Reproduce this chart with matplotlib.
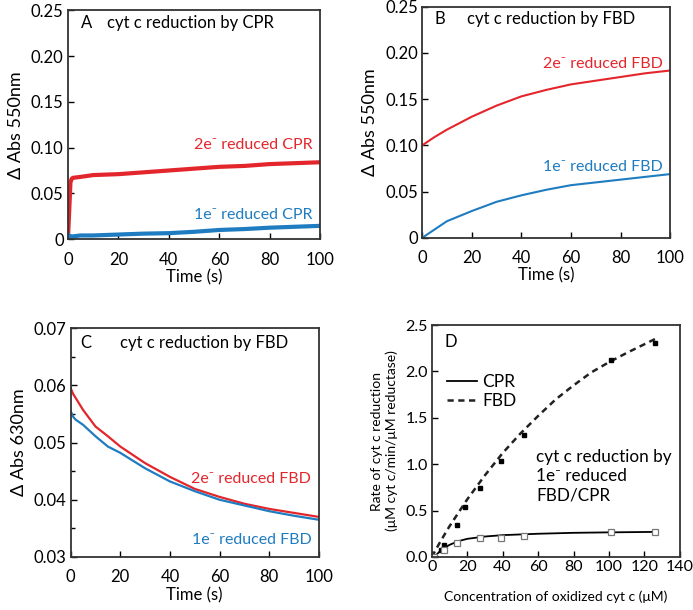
import matplotlib.pyplot as plt

plt.rcParams['font.family'] = ['Lato', 'DejaVu Sans']
plt.rcParams['axes.linewidth'] = 1.3
plt.rcParams['xtick.direction'] = 'in'
plt.rcParams['ytick.direction'] = 'in'

RED = '#e3262c'
BLUE = '#1f7cc0'

# Panel A: cyt c reduction by CPR (dAbs 550nm)
t_a = [0, 0.5, 1, 1.5, 2, 5, 10, 20, 30, 40, 50, 60, 70, 80, 90, 100]
a_2e = [0.0, 0.03, 0.062, 0.066, 0.067, 0.068, 0.070, 0.071, 0.073, 0.075, 0.077, 0.079, 0.080, 0.082, 0.083, 0.084]
a_1e = [0.005, 0.004, 0.003, 0.003, 0.003, 0.004, 0.004, 0.005, 0.006, 0.0065, 0.008, 0.010, 0.011, 0.0125, 0.0135, 0.0145]

# Panel B: cyt c reduction by FBD (dAbs 550nm)
t_b = [0, 5, 10, 20, 30, 40, 50, 60, 70, 80, 90, 100]
b_2e = [0.100, 0.109, 0.117, 0.131, 0.143, 0.153, 0.160, 0.166, 0.170, 0.174, 0.178, 0.181]
b_1e = [0.0, 0.009, 0.018, 0.029, 0.039, 0.046, 0.052, 0.057, 0.060, 0.063, 0.066, 0.069]

# Panel C: cyt c reduction by FBD (dAbs 630nm)
t_c = [0, 1, 2, 5, 10, 15, 20, 30, 40, 50, 60, 70, 80, 90, 100]
c_2e = [0.0595, 0.0585, 0.0578, 0.0557, 0.0528, 0.0511, 0.0493, 0.0464, 0.0440, 0.0419, 0.0405, 0.0393, 0.0384, 0.0377, 0.0370]
c_1e = [0.0555, 0.0545, 0.0540, 0.0531, 0.0511, 0.0493, 0.0482, 0.0455, 0.0432, 0.0415, 0.0400, 0.0390, 0.0380, 0.0372, 0.0365]

# Panel D: rate vs concentration of oxidized cyt c
conc_fbd = [1.5, 5, 7, 14, 19, 27, 39, 52, 101, 126]
rate_fbd = [0.0, 0.07, 0.13, 0.34, 0.54, 0.74, 1.03, 1.32, 2.12, 2.31]
conc_cpr = [1.5, 7, 14, 27, 39, 52, 101, 126]
rate_cpr = [0.0, 0.07, 0.15, 0.20, 0.20, 0.23, 0.27, 0.27]
fit_x_fbd = [0, 5, 10, 20, 30, 40, 50, 60, 70, 80, 90, 100, 110, 126]
fit_y_fbd = [0.0, 0.17, 0.33, 0.62, 0.88, 1.12, 1.33, 1.52, 1.70, 1.85, 1.99, 2.10, 2.20, 2.35]
fit_x_cpr = [1.5, 5, 10, 15, 20, 30, 40, 60, 80, 100, 126]
fit_y_cpr = [0.0, 0.07, 0.13, 0.17, 0.195, 0.22, 0.235, 0.25, 0.26, 0.265, 0.27]

fig = plt.figure(figsize=(6.93, 6.10), dpi=100)
axA = fig.add_axes([0.098, 0.608, 0.364, 0.375])
axB = fig.add_axes([0.609, 0.610, 0.358, 0.379])
axC = fig.add_axes([0.102, 0.087, 0.358, 0.375])
axD = fig.add_axes([0.623, 0.087, 0.358, 0.380])

TICK = 12
XLAB = 12
YLAB = 13
TITLE = 12
CURVE = 11.5

# A
axA.plot(t_a, a_2e, color=RED, lw=3)
axA.plot(t_a, a_1e, color=BLUE, lw=3)
axA.set_xlim(0, 100)
axA.set_ylim(0, 0.25)
axA.set_xticks([0, 20, 40, 60, 80, 100])
axA.set_yticks([0, 0.05, 0.10, 0.15, 0.20, 0.25])
axA.set_yticklabels(['0', '0.05', '0.10', '0.15', '0.20', '0.25'])
axA.set_xlabel('Time (s)', fontsize=XLAB, labelpad=1)
axA.set_ylabel('Δ Abs 550nm', fontsize=YLAB, labelpad=5)
axA.text(0.05, 0.925, 'A', transform=axA.transAxes, fontsize=TITLE)
axA.text(0.155, 0.925, 'cyt c reduction by CPR', transform=axA.transAxes, fontsize=TITLE)
axA.text(0.97, 0.395, '2e⁻ reduced CPR', transform=axA.transAxes, fontsize=CURVE,
         color=RED, ha='right')
axA.text(0.97, 0.09, '1e⁻ reduced CPR', transform=axA.transAxes, fontsize=CURVE,
         color=BLUE, ha='right')

# B
axB.plot(t_b, b_2e, color=RED, lw=1.5)
axB.plot(t_b, b_1e, color=BLUE, lw=1.5)
axB.set_xlim(0, 100)
axB.set_ylim(0, 0.25)
axB.set_xticks([0, 20, 40, 60, 80, 100])
axB.set_yticks([0, 0.05, 0.10, 0.15, 0.20, 0.25])
axB.set_yticklabels(['0', '0.05', '0.10', '0.15', '0.20', '0.25'])
axB.set_xlabel('Time (s)', fontsize=XLAB, labelpad=1)
axB.set_ylabel('Δ Abs 550nm', fontsize=YLAB, labelpad=5)
axB.text(0.05, 0.925, 'B', transform=axB.transAxes, fontsize=TITLE)
axB.text(0.18, 0.925, 'cyt c reduction by FBD', transform=axB.transAxes, fontsize=TITLE)
axB.text(0.97, 0.735, '2e⁻ reduced FBD', transform=axB.transAxes, fontsize=CURVE,
         color=RED, ha='right')
axB.text(0.97, 0.29, '1e⁻ reduced FBD', transform=axB.transAxes, fontsize=CURVE,
         color=BLUE, ha='right')

# C
axC.plot(t_c, c_2e, color=RED, lw=1.6)
axC.plot(t_c, c_1e, color=BLUE, lw=1.6)
axC.set_xlim(0, 100)
axC.set_ylim(0.03, 0.07)
axC.set_xticks([0, 20, 40, 60, 80, 100])
axC.set_yticks([0.03, 0.04, 0.05, 0.06, 0.07])
axC.set_yticks([0.035, 0.045, 0.055, 0.065], minor=True)
axC.set_yticklabels(['0.03', '0.04', '0.05', '0.06', '0.07'])
axC.set_xlabel('Time (s)', fontsize=XLAB, labelpad=1)
axC.set_ylabel('Δ Abs 630nm', fontsize=YLAB, labelpad=5)
axC.text(0.04, 0.915, 'C', transform=axC.transAxes, fontsize=TITLE)
axC.text(0.20, 0.915, 'cyt c reduction by FBD', transform=axC.transAxes, fontsize=TITLE)
axC.text(0.97, 0.325, '2e⁻ reduced FBD', transform=axC.transAxes, fontsize=CURVE,
         color=RED, ha='right')
axC.text(0.97, 0.055, '1e⁻ reduced FBD', transform=axC.transAxes, fontsize=CURVE,
         color=BLUE, ha='right')

# D
axD.plot(fit_x_cpr, fit_y_cpr, color='black', lw=1.3, label='CPR')
axD.plot(fit_x_fbd, fit_y_fbd, color='#222222', lw=1.8, ls=(0, (2.5, 1.8)), label='FBD')
axD.plot(conc_fbd, rate_fbd, 's', color='black', ms=3.5)
axD.plot(conc_cpr, rate_cpr, 's', mfc='white', mec='#777777', mew=0.9, ms=4)
axD.set_xlim(0, 140)
axD.set_ylim(0, 2.5)
axD.set_xticks([0, 20, 40, 60, 80, 100, 120, 140])
axD.set_yticks([0, 0.5, 1.0, 1.5, 2.0, 2.5])
axD.set_yticklabels(['0.0', '0.5', '1.0', '1.5', '2.0', '2.5'])
axD.set_xlabel('Concentration of oxidized cyt c (μM)', fontsize=10, labelpad=12)
axD.set_ylabel('Rate of cyt c reduction\n(μM cyt c/min/μM reductase)', fontsize=10,
               labelpad=5, linespacing=1.25)
axD.text(0.05, 0.905, 'D', transform=axD.transAxes, fontsize=TITLE)
axD.text(0.42, 0.465, 'cyt c reduction by\n1e⁻ reduced\nFBD/CPR', transform=axD.transAxes,
         fontsize=12.3, va='top', linespacing=1.25)
axD.legend(loc='upper left', bbox_to_anchor=(0.0, 0.855), frameon=False, fontsize=12.5,
           handlelength=1.7, handletextpad=0.3, labelspacing=0.15)

for ax in (axA, axB, axC, axD):
    ax.tick_params(labelsize=TICK, length=4, width=1, pad=3)
    ax.tick_params(which='minor', length=3, width=1)
    for s in ax.spines.values():
        s.set_color('#333333')
for ax in (axA, axB, axC):
    ax.tick_params(axis='x', pad=9)
axD.tick_params(labelsize=11.5)
axD.tick_params(axis='x', pad=2)

fig.savefig('out.png', dpi=100)
print("done")
